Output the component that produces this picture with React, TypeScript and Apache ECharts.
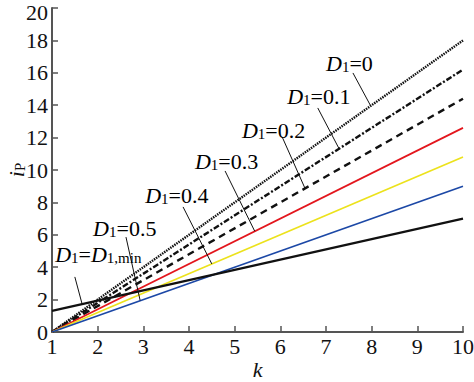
import React, { useEffect, useRef } from "react";
import * as echarts from "echarts";

// k values (x axis) at the ends of every straight line
const kValues = [1, 10];
// i_P values read at k = 1 and k = 10
const d1_0 = [0, 18.0];
const d1_01 = [0, 16.2];
const d1_02 = [0, 14.4];
const d1_03 = [0, 12.6];
const d1_04 = [0, 10.8];
const d1_05 = [0, 9.0];
const d1_min = [1.3, 7.0];

const xTicks = [1, 2, 3, 4, 5, 6, 7, 8, 9, 10];
const yTicks = [0, 2, 4, 6, 8, 10, 12, 14, 16, 18, 20];

// annotations: label text (rich), label anchor (data coords), leader start/end (data coords)
const annLabels = [
  "{d|D}{s|1}{n|=0}",
  "{d|D}{s|1}{n|=0.1}",
  "{d|D}{s|1}{n|=0.2}",
  "{d|D}{s|1}{n|=0.3}",
  "{d|D}{s|1}{n|=0.4}",
  "{d|D}{s|1}{n|=0.5}",
  "{d|D}{s|1}{n|=}{d|D}{s|1,min}",
];
const annTextAt = [
  [7.0, 16.67],
  [6.15, 14.63],
  [5.16, 12.59],
  [4.13, 10.62],
  [3.04, 8.58],
  [1.9, 6.54],
  [1.07, 4.88],
];
const annFrom = [
  [7.59, 15.99],
  [6.82, 13.83],
  [6.04, 12.04],
  [4.79, 9.94],
  [3.87, 7.72],
  [2.62, 5.86],
  [1.5, 3.4],
];
const annTo = [
  [7.98, 13.95],
  [7.28, 11.35],
  [6.54, 8.87],
  [5.44, 6.22],
  [4.5, 4.2],
  [2.93, 1.95],
  [1.66, 1.72],
];

const FONT = "'Liberation Serif', 'Times New Roman', serif";

const rich = {
  d: { fontFamily: FONT, fontSize: 22, fontStyle: "italic", color: "#111", lineHeight: 26, verticalAlign: "bottom" },
  n: { fontFamily: FONT, fontSize: 22, color: "#111", lineHeight: 26, verticalAlign: "bottom" },
  s: { fontFamily: FONT, fontSize: 15, color: "#111", lineHeight: 15, verticalAlign: "bottom" },
};

function pairs(vals: number[]) {
  return kValues.map((k, i) => [k, vals[i]]);
}

export default function App() {
  const ref = useRef<HTMLDivElement>(null);
  useEffect(() => {
    if (!ref.current) return;
    const chart = echarts.init(ref.current, undefined, { renderer: "svg" });
    const axisColor = "#555";
    const mk = (name: string, data: number[], color: string, type: any, width: number) => ({
      name,
      type: "line",
      data: pairs(data),
      symbol: "none",
      silent: true,
      lineStyle: { color, type, width },
      z: 3,
    });
    const tickFont = { fontFamily: FONT, fontSize: 22, color: "#111" };
    chart.setOption({
      animation: false,
      grid: { left: 52, right: 11, top: 8, bottom: 50, containLabel: false, outerBoundsMode: "none" },
      xAxis: {
        type: "value",
        min: 1,
        max: 10,
        interval: 1,
        name: "k",
        nameLocation: "middle",
        nameGap: 26,
        nameMoveOverlap: false,
        nameTextStyle: { fontFamily: FONT, fontSize: 22, fontStyle: "italic", color: "#111" },
        axisLine: { lineStyle: { color: axisColor, width: 2 } },
        axisTick: { inside: true, length: 6, lineStyle: { color: axisColor, width: 1.5 } },
        axisLabel: {
          ...tickFont, margin: 3,
          formatter: (v: number) => (xTicks.includes(v) ? String(v) : ""),
        },
        splitLine: { show: false },
      },
      yAxis: {
        type: "value",
        min: 0,
        max: 20,
        interval: 2,
        name: "{i|i}{p|P}",
        nameLocation: "middle",
        nameGap: 25,
        nameRotate: 90,
        nameMoveOverlap: false,
        nameTextStyle: {
          rich: {
            i: { fontFamily: FONT, fontSize: 22, fontStyle: "italic", color: "#111", lineHeight: 24, verticalAlign: "bottom" },
            p: { fontFamily: FONT, fontSize: 15, color: "#111", lineHeight: 15, verticalAlign: "bottom" },
          },
        },
        axisLine: { lineStyle: { color: axisColor, width: 2 } },
        axisTick: { inside: true, length: 6, lineStyle: { color: axisColor, width: 1.5 } },
        axisLabel: {
          ...tickFont, margin: 4,
          formatter: (v: number) =>
            yTicks.includes(v) ? (v === 20 ? "{top|" + v + "}" : String(v)) : "",
          rich: { top: { ...tickFont, padding: [9, 0, 0, 0] } },
        },
        splitLine: { show: false },
      },
      series: [
        mk("D1=0", d1_0, "#111", [1.5, 1], 2.4),
        mk("D1=0.1", d1_01, "#111", [6, 2, 2, 2], 2.4),
        mk("D1=0.2", d1_02, "#111", [7, 5], 2.4),
        mk("D1=0.3", d1_03, "#e3161d", "solid", 1.7),
        mk("D1=0.4", d1_04, "#ece21c", "solid", 1.7),
        mk("D1=0.5", d1_05, "#1c48a6", "solid", 1.7),
        mk("D1=D1,min", d1_min, "#111", "solid", 2.2),
      ],
    });
    const conv = (p: number[]) => chart.convertToPixel({ gridIndex: 0 }, p) as number[];
    const elements: any[] = [];
    annLabels.forEach((t, i) => {
      const a = conv(annFrom[i]);
      const b = conv(annTo[i]);
      const c = conv(annTextAt[i]);
      elements.push({
        type: "line",
        silent: true,
        shape: { x1: a[0], y1: a[1], x2: b[0], y2: b[1] },
        style: { stroke: "#111", lineWidth: 1 },
        z: 10,
      });
      elements.push({
        type: "text",
        silent: true,
        x: c[0],
        y: c[1],
        style: { text: t, rich, align: "left", verticalAlign: "middle" },
        z: 10,
      });
    });
    chart.setOption({ graphic: elements });
    return () => chart.dispose();
  }, []);
  return (
    <div
      ref={ref}
      style={{ position: "absolute", left: 0, top: 0, width: 474, height: 382 }}
    />
  );
}
